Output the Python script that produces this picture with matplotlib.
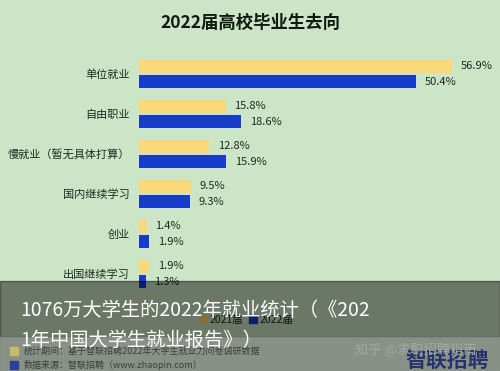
import matplotlib
matplotlib.use("Agg")
import matplotlib.pyplot as plt
from matplotlib.patches import Rectangle
import numpy as np

plt.rcParams['font.family'] = ['Noto Sans CJK SC', 'DejaVu Sans']

# data
categories = ['单位就业', '自由职业', '慢就业（暂无具体打算）', '国内继续学习', '创业', '出国继续学习']
v2021 = [56.9, 15.8, 12.8, 9.5, 1.4, 1.9]
v2022 = [50.4, 18.6, 15.9, 9.3, 1.9, 1.3]
series_names = ['2021届', '2022届']

title = '2022届高校毕业生去向'
caption = ['1076万大学生的2022年就业统计（《202', '1年中国大学生就业报告》）']
notes = ['统计期间：基于智联招聘2022年大学生就业力问卷调研数据',
         '数据来源：智联招聘（www.zhaopin.com）']

bg = '#cde5c7'
yellow = '#f9d878'
blue = '#173cc8'
ink = '#1e2a1e'

W, H = 500, 371
fig = plt.figure(figsize=(5, 3.71), dpi=100, facecolor=bg)

def fx(x):
    return x / W

def fy(y):
    return 1 - y / H

# main axes in pixel placement
ax = fig.add_axes([fx(139), fy(295), fx(480) - fx(139), fy(55) - fy(295)])
ax.set_facecolor(bg)
y = np.arange(len(categories))
h = 0.33
off = 0.19
b1 = ax.barh(y - off, v2021, height=h, color=yellow)
b2 = ax.barh(y + off, v2022, height=h, color=blue)
for bars, vals in [(b1, v2021), (b2, v2022)]:
    for bar, v in zip(bars, vals):
        ax.annotate(f'{v}%', (v, bar.get_y() + bar.get_height() / 2),
                    xytext=(6, 0), textcoords='offset points',
                    ha='left', va='center', fontsize=8, color=ink)

ax.set_xlim(0, (480 - 139) / 5.5)
ax.set_ylim(len(categories) - 0.475, -0.475)
ax.set_yticks(y)
ax.set_yticklabels(categories, fontsize=8, color=ink)
ax.tick_params(axis='y', length=0, pad=6.5)
ax.set_xticks([])
for s in ax.spines.values():
    s.set_visible(False)

fig.text(0.5, fy(23), title, ha='center', va='center', fontsize=12.5,
         fontweight='bold', color='#111a11')

# legend (partly hidden under the caption band)
fig.patches.append(Rectangle((fx(199), fy(323)), fx(8), 8 / H, transform=fig.transFigure,
                             color=yellow, zorder=4))
fig.text(fx(210), fy(320), series_names[0], fontsize=7.5, va='center', color=ink, zorder=4)
fig.patches.append(Rectangle((fx(249), fy(323)), fx(8), 8 / H, transform=fig.transFigure,
                             color=blue, zorder=4))
fig.text(fx(260), fy(320), series_names[1], fontsize=7.5, va='center', color=ink, zorder=4)

# caption overlay bands
fig.patches.append(Rectangle((0, fy(337)), 1, (337 - 281) / H, transform=fig.transFigure,
                             color='#000000', alpha=0.48, zorder=5))
fig.patches.append(Rectangle((0, 0), 1, (H - 337) / H, transform=fig.transFigure,
                             color='#848a82', alpha=0.92, zorder=5))

fig.text(fx(20), fy(310), caption[0], ha='left', va='center', fontsize=13.9,
         color='white', zorder=8)
fig.text(fx(20), fy(340), caption[1], ha='left', va='center', fontsize=13.9,
         color='white', zorder=8)

# footnotes under the band
fig.patches.append(Rectangle((fx(10), fy(355)), fx(8), 8 / H, transform=fig.transFigure,
                             color='#c8b96a', zorder=6))
fig.text(fx(24), fy(351), notes[0], fontsize=6.5, va='center', color='#3a403a', zorder=6)
fig.patches.append(Rectangle((fx(10), fy(369)), fx(8), 8 / H, transform=fig.transFigure,
                             color='#2a3f9a', zorder=6))
fig.text(fx(24), fy(365), notes[1], fontsize=6.5, va='center', color='#3a403a', zorder=6)

# watermarks
fig.text(fx(355), fy(350), '知乎 @求职招聘指南', fontsize=9.5, va='center',
         color='#a3a8a0', zorder=7)
fig.text(fx(405), fy(361), '智联招聘', fontsize=15, fontweight='bold', va='center',
         color='#26336e', zorder=6)

fig.savefig('out.png', dpi=100, facecolor=bg)
